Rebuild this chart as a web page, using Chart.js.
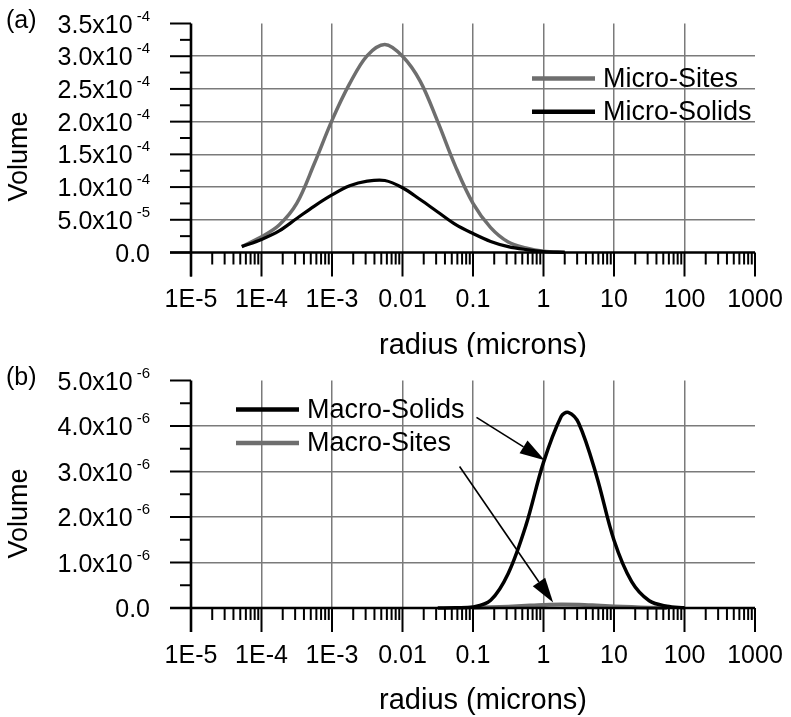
<!DOCTYPE html>
<html><head><meta charset="utf-8">
<script src="https://cdn.jsdelivr.net/npm/chart.js@4/dist/chart.umd.min.js"></script>
<style>
html,body{margin:0;padding:0;background:#fff;}
#wrap{position:relative;width:791px;height:717px;overflow:hidden;background:#fff;}
canvas{position:absolute;left:0;}
</style></head><body>
<div id="wrap">
<canvas id="c1" width="791" height="358" style="top:0px"></canvas>
<canvas id="c2" width="791" height="360" style="top:357px"></canvas>
</div>
<script>
// ---------- data ----------
const xTickValues = [1e-5, 1e-4, 1e-3, 0.01, 0.1, 1, 10, 100, 1000];
const xTickLabels = ['1E-5', '1E-4', '1E-3', '0.01', '0.1', '1', '10', '100', '1000'];
const xTitle = 'radius (microns)';
const yTitle = 'Volume';

// panel (a)
const microRadius = [5.25e-5, 1e-4, 1.78e-4, 3.16e-4, 5.62e-4, 1e-3, 1.78e-3, 3.16e-3, 5.62e-3, 0.01, 0.0178, 0.0316, 0.0562, 0.1, 0.178, 0.316, 0.562, 1, 2];
const microSites  = [0.09e-4, 0.24e-4, 0.42e-4, 0.75e-4, 1.36e-4, 2.02e-4, 2.58e-4, 3.01e-4, 3.18e-4, 3.00e-4, 2.62e-4, 2.00e-4, 1.32e-4, 0.75e-4, 0.38e-4, 0.16e-4, 0.07e-4, 0.02e-4, 0.005e-4];
const microSolids = [0.09e-4, 0.20e-4, 0.33e-4, 0.52e-4, 0.71e-4, 0.88e-4, 1.02e-4, 1.09e-4, 1.10e-4, 0.99e-4, 0.81e-4, 0.62e-4, 0.43e-4, 0.29e-4, 0.17e-4, 0.09e-4, 0.045e-4, 0.015e-4, 0.003e-4];
const topYTicks = [0, 0.5e-4, 1.0e-4, 1.5e-4, 2.0e-4, 2.5e-4, 3.0e-4, 3.5e-4];
const topYMant  = ['0.0', '5.0x10', '1.0x10', '1.5x10', '2.0x10', '2.5x10', '3.0x10', '3.5x10'];
const topYExp   = ['', '-5', '-4', '-4', '-4', '-4', '-4', '-4'];

// panel (b)
const macroSolidsRadius = [0.0316, 0.0562, 0.1, 0.178, 0.316, 0.562, 1, 1.78, 2.24, 3.16, 5.62, 10, 17.8, 31.6, 56.2, 100];
const macroSolids = [0, 0.005e-6, 0.02e-6, 0.17e-6, 0.76e-6, 1.81e-6, 3.20e-6, 4.21e-6, 4.30e-6, 4.06e-6, 2.92e-6, 1.49e-6, 0.58e-6, 0.16e-6, 0.04e-6, 0.005e-6];
const macroSitesRadius = [0.1, 0.178, 0.316, 0.562, 1, 1.78, 3.16, 5.62, 10, 17.8, 31.6, 56.2];
const macroSites = [0.005e-6, 0.015e-6, 0.03e-6, 0.05e-6, 0.068e-6, 0.078e-6, 0.072e-6, 0.055e-6, 0.035e-6, 0.02e-6, 0.008e-6, 0.002e-6];
const botYTicks = [0, 1e-6, 2e-6, 3e-6, 4e-6, 5e-6];
const botYMant  = ['0.0', '1.0x10', '2.0x10', '3.0x10', '4.0x10', '5.0x10'];
const botYExp   = ['', '-6', '-6', '-6', '-6', '-6'];

// annotation arrows (data coordinates: radius, volume)
const arrowFromX = [0.112, 0.0645];
const arrowFromY = [4.19e-6, 3.11e-6];
const arrowToX   = [1.04, 1.37];
const arrowToY   = [3.25e-6, 0.12e-6];

// ---------- drawing ----------
const FONT = '"Liberation Sans", Arial, Helvetica, sans-serif';

function seg(ctx, x1, y1, x2, y2) { ctx.beginPath(); ctx.moveTo(x1, y1); ctx.lineTo(x2, y2); ctx.stroke(); }

function arrow(ctx, x1, y1, x2, y2, headLen, headW) {
  const ang = Math.atan2(y2 - y1, x2 - x1);
  const bx = x2 - headLen * Math.cos(ang), by = y2 - headLen * Math.sin(ang);
  ctx.lineWidth = 1.6;
  seg(ctx, x1, y1, bx, by);
  ctx.beginPath();
  ctx.moveTo(x2, y2);
  ctx.lineTo(bx + headW * Math.sin(ang), by - headW * Math.cos(ang));
  ctx.lineTo(bx - headW * Math.sin(ang), by + headW * Math.cos(ang));
  ctx.closePath();
  ctx.fill();
}

const decorPlugin = {
  id: 'decor',
  beforeDraw(chart) {
    const ctx = chart.ctx;
    ctx.save(); ctx.fillStyle = '#fff'; ctx.fillRect(0, 0, chart.width, chart.height); ctx.restore();
  },
  afterDraw(chart, args, opts) {
    const ctx = chart.ctx, a = chart.chartArea, xs = chart.scales.x, ys = chart.scales.y;
    ctx.save();
    ctx.strokeStyle = '#000'; ctx.fillStyle = '#000'; ctx.lineCap = 'butt';

    // x ticks (minor then major)
    ctx.lineWidth = 2;
    for (let i = 0; i < xTickValues.length - 1; i++) {
      for (let k = 2; k < 10; k++) {
        const px = xs.getPixelForValue(xTickValues[i] * k);
        seg(ctx, px, a.bottom, px, a.bottom + 12);
      }
    }
    xTickValues.forEach(v => { const px = xs.getPixelForValue(v); seg(ctx, px, a.bottom, px, a.bottom + 24); });

    // y ticks
    const yt = opts.yTicks;
    yt.forEach((v, i) => {
      const py = ys.getPixelForValue(v);
      seg(ctx, a.left - 21, py, a.left, py);
      if (i < yt.length - 1) {
        const pm = ys.getPixelForValue((v + yt[i + 1]) / 2);
        seg(ctx, a.left - 11, pm, a.left, pm);
      }
    });

    // axis lines
    ctx.lineWidth = 2.6;
    seg(ctx, a.left - 21, a.bottom, a.right, a.bottom);
    seg(ctx, a.left, a.top, a.left, a.bottom + 24);

    // y tick labels with superscript exponent
    const rightX = 150;
    ctx.textBaseline = 'alphabetic';
    ctx.textAlign = 'right';
    yt.forEach((v, i) => {
      const py = ys.getPixelForValue(v);
      const exp = opts.yExp[i];
      ctx.font = '15px ' + FONT;
      const ew = exp ? ctx.measureText(exp).width : 0;
      ctx.font = '25px ' + FONT;
      ctx.fillText(opts.yMant[i], rightX - ew - (exp ? 4 : 0), py + 9);
      if (exp) { ctx.font = '15px ' + FONT; ctx.fillText(exp, rightX, py - 3); }
    });

    // y title
    ctx.save();
    ctx.translate(20, a.top + 133);
    ctx.rotate(-Math.PI / 2);
    ctx.font = '27px ' + FONT; ctx.textAlign = 'center'; ctx.textBaseline = 'middle';
    ctx.fillText(yTitle, 0, 0);
    ctx.restore();

    // x title
    ctx.font = '29px ' + FONT; ctx.textAlign = 'center'; ctx.textBaseline = 'middle';
    ctx.fillText(xTitle, (a.left + a.right) / 2 + 10, a.bottom + 93);

    // panel label
    ctx.font = '25px ' + FONT; ctx.textAlign = 'left'; ctx.textBaseline = 'middle';
    ctx.fillText(opts.panel, 6, 21);

    // legend (from dataset labels / colours)
    const lg = opts.legend;
    lg.order.forEach((di, j) => {
      const ds = chart.data.datasets[di];
      const y = lg.y0 + j * lg.dy;
      ctx.strokeStyle = ds.borderColor; ctx.lineWidth = 4.5;
      seg(ctx, lg.x1, y, lg.x2, y);
      ctx.fillStyle = '#000'; ctx.font = '27px ' + FONT; ctx.textAlign = 'left'; ctx.textBaseline = 'middle';
      ctx.fillText(ds.label, lg.xText, y + 1);
    });

    // arrows
    if (opts.arrows) {
      ctx.strokeStyle = '#000'; ctx.fillStyle = '#000';
      for (let i = 0; i < arrowFromX.length; i++) {
        arrow(ctx,
          xs.getPixelForValue(arrowFromX[i]), ys.getPixelForValue(arrowFromY[i]),
          xs.getPixelForValue(arrowToX[i]), ys.getPixelForValue(arrowToY[i]), 25, 7.5);
      }
    }
    ctx.restore();
  }
};

function makeChart(id, datasets, cfg) {
  const chart = new Chart(document.getElementById(id), {
    type: 'line',
    data: { datasets: datasets },
    options: {
      responsive: false, animation: false, devicePixelRatio: 1,
      layout: { padding: { left: 0, right: 36, top: 23.5, bottom: 0 } },
      elements: { point: { radius: 0 }, line: { tension: 0.35 } },
      plugins: { legend: { display: false }, tooltip: { enabled: false }, decor: cfg },
      scales: {
        x: {
          type: 'logarithmic', position: 'bottom', min: 1e-5, max: 1000,
          afterBuildTicks: s => { s.ticks = xTickValues.map(v => ({ value: v })); },
          afterFit: s => { s.height = cfg.xAxisHeight; s.paddingLeft = 0; s.paddingRight = 0; },
          grid: {
            drawTicks: false, lineWidth: 1.5,
            color: c => (c.tick && (c.tick.value === 1e-5 || c.tick.value === 1000)) ? 'rgba(0,0,0,0)' : '#7a7a7a'
          },
          border: { display: false },
          ticks: {
            autoSkip: false, maxRotation: 0, minRotation: 0, padding: 33, color: '#000',
            font: { family: FONT, size: 25, lineHeight: 1.2 },
            callback: (v, i) => xTickLabels[i]
          },
          title: { display: false }
        },
        y: {
          type: 'linear', min: 0, max: cfg.yTicks[cfg.yTicks.length - 1],
          afterBuildTicks: s => { s.ticks = cfg.yTicks.map(v => ({ value: v })); },
          afterFit: s => { s.width = 191; s.paddingTop = 0; s.paddingBottom = 0; },
          grid: {
            drawTicks: false, lineWidth: 1.5,
            color: c => (c.tick && (c.index === 0 || c.index === cfg.yTicks.length - 1)) ? 'rgba(0,0,0,0)' : '#7a7a7a'
          },
          border: { display: false },
          ticks: { display: false }
        }
      }
    },
    plugins: [decorPlugin]
  });
  // make sure plot area spans exactly to x = 755
  for (let k = 0; k < 3; k++) {
    const d = 755 - chart.chartArea.right;
    if (Math.abs(d) < 0.5) break;
    chart.options.layout.padding.right = Math.max(0, chart.options.layout.padding.right - d);
    chart.update('none');
  }
  return chart;
}

makeChart('c1', [
  { label: 'Micro-Solids', data: microRadius.map((r, i) => ({ x: r, y: microSolids[i] })),
    borderColor: '#000000', borderWidth: 3.2, fill: false, clip: false, order: 1 },
  { label: 'Micro-Sites', data: microRadius.map((r, i) => ({ x: r, y: microSites[i] })),
    borderColor: '#6e6e6e', borderWidth: 3.5, fill: false, clip: false, order: 2 }
], {
  panel: '(a)', xAxisHeight: 105.5,
  yTicks: topYTicks, yMant: topYMant, yExp: topYExp,
  legend: { order: [1, 0], x1: 532, x2: 595, xText: 603, y0: 78.5, dy: 33.3 },
  arrows: false
});

makeChart('c2', [
  { label: 'Macro-Solids', data: macroSolidsRadius.map((r, i) => ({ x: r, y: macroSolids[i] })),
    borderColor: '#000000', borderWidth: 3.5, fill: false, clip: false, order: 1 },
  { label: 'Macro-Sites', data: macroSitesRadius.map((r, i) => ({ x: r, y: macroSites[i] })),
    borderColor: '#6e6e6e', borderWidth: 4, fill: false, clip: false, order: 2 }
], {
  panel: '(b)', xAxisHeight: 109,
  yTicks: botYTicks, yMant: botYMant, yExp: botYExp,
  legend: { order: [0, 1], x1: 236, x2: 299, xText: 307, y0: 52.5, dy: 33.4 },
  arrows: true
});
</script>
</body></html>
